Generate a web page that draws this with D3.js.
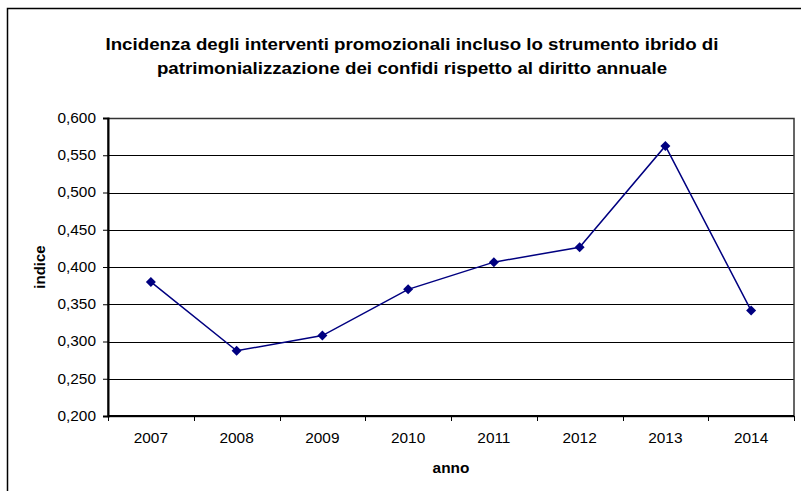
<!DOCTYPE html>
<head>
	<meta charset="utf-8">
	<style>
		body {margin: 0; background: #fff;}
		text {font-family: "Liberation Sans", Arial, sans-serif;}
	</style>
	<script src="https://d3js.org/d3.v7.min.js" charset="utf-8"></script>
</head>
<body>
	<script>
		// values
		var anni = ["2007", "2008", "2009", "2010", "2011", "2012", "2013", "2014"];
		var indice = [0.380, 0.2875, 0.308, 0.370, 0.4065, 0.4265, 0.5625, 0.3415];
		var yTicks = [0.200, 0.250, 0.300, 0.350, 0.400, 0.450, 0.500, 0.550, 0.600];
		var titolo = ["Incidenza degli interventi promozionali incluso lo strumento ibrido di",
			"patrimonializzazione dei confidi rispetto al diritto annuale"];

		var W = 801, H = 491;
		var margin = {top: 118, right: 7, bottom: 75, left: 108},
			width = W - margin.left - margin.right,
			height = H - margin.top - margin.bottom;
		// the picture's text looks a bit wide
		var stretch = 1.1;

		var root = d3.select("body").append("svg")
			.attr("width", W)
			.attr("height", H);

		// outer chart frame (only top and left visible in the picture)
		root.append("rect")
			.attr("x", 7.5).attr("y", 8.5)
			.attr("width", 900).attr("height", 700)
			.attr("fill", "none")
			.attr("stroke", "#000")
			.attr("stroke-width", 1.5);

		root.selectAll(".titolo")
			.data(titolo)
			.enter()
			.append("text")
			.attr("class", "titolo")
			.attr("x", 412)
			.attr("y", function(d, i){return 50 + i * 24;})
			.attr("text-anchor", "middle")
			.attr("font-size", "17px")
			.attr("font-weight", "bold")
			.text(function(d){return d;});

		var svg = root.append("g")
			.attr("transform", "translate(" + margin.left + "," + margin.top + ")");

		var x = d3.scaleBand()
			.domain(anni)
			.range([0, width]);
		var y = d3.scaleLinear()
			.domain([0.2, 0.6])
			.range([height, 0]);

		// gridlines
		svg.selectAll(".grid")
			.data(yTicks)
			.enter()
			.append("line")
			.attr("class", "grid")
			.attr("x1", 0).attr("x2", width)
			.attr("y1", function(d){return Math.round(y(d)) + 0.5;})
			.attr("y2", function(d){return Math.round(y(d)) + 0.5;})
			.attr("stroke", "#000")
			.attr("stroke-width", 1);

		// plot area border
		svg.append("rect")
			.attr("x", 0).attr("y", 0.5)
			.attr("width", width).attr("height", height)
			.attr("fill", "none")
			.attr("stroke", "#333")
			.attr("stroke-width", 1.5);

		var fmt = function(d){return d3.format(".3f")(d).replace(".", ",");};

		var yAxis = svg.append("g")
			.call(d3.axisLeft(y).tickValues(yTicks).tickFormat(fmt).tickSize(5).tickPadding(7));
		yAxis.select(".domain").attr("stroke-width", 2);
		yAxis.selectAll("text").attr("font-size", "14px").attr("font-family", "Liberation Sans, Arial, sans-serif").attr("fill", "#000");

		// x axis: ticks at category boundaries
		var xAxis = svg.append("g")
			.attr("transform", "translate(0," + height + ")");
		xAxis.append("line")
			.attr("x1", 0).attr("x2", width)
			.attr("y1", 0).attr("y2", 0)
			.attr("stroke", "#000").attr("stroke-width", 2);
		xAxis.selectAll(".xtick")
			.data(anni)
			.enter()
			.append("line")
			.attr("class", "xtick")
			.attr("x1", function(d){return Math.round(x(d) + x.bandwidth()) + 0.5;})
			.attr("x2", function(d){return Math.round(x(d) + x.bandwidth()) + 0.5;})
			.attr("y1", 0).attr("y2", 5)
			.attr("stroke", "#000");
		xAxis.append("line")
			.attr("x1", 0.5).attr("x2", 0.5)
			.attr("y1", 0).attr("y2", 5)
			.attr("stroke", "#000");
		xAxis.selectAll(".xlab")
			.data(anni)
			.enter()
			.append("text")
			.attr("class", "xlab")
			.attr("x", function(d){return x(d) + x.bandwidth() / 2;})
			.attr("y", 27)
			.attr("text-anchor", "middle")
			.attr("font-size", "14px")
			.text(function(d){return d;});

		// axis titles
		svg.append("text")
			.attr("x", width / 2)
			.attr("y", height + 57)
			.attr("text-anchor", "middle")
			.attr("font-size", "14px")
			.attr("font-weight", "bold")
			.text("anno");
		svg.append("text")
			.attr("class", "norot")
			.attr("transform", "translate(" + (-63) + "," + (height / 2) + ") rotate(-90)")
			.attr("text-anchor", "middle")
			.attr("font-size", "15px")
			.attr("font-weight", "bold")
			.text("indice");

		// widen the horizontal texts like in the picture
		root.selectAll("text").filter(function(){return !this.classList.contains("norot");})
			.each(function(){
				var len = this.getComputedTextLength();
				d3.select(this)
					.attr("textLength", len * stretch)
					.attr("lengthAdjust", "spacingAndGlyphs");
			});

		// series
		var pts = anni.map(function(a, i){return {anno: a, v: indice[i]};});
		var line = d3.line()
			.x(function(d){return x(d.anno) + x.bandwidth() / 2;})
			.y(function(d){return y(d.v);});
		svg.append("path")
			.datum(pts)
			.attr("d", line)
			.attr("fill", "none")
			.attr("stroke", "#000080")
			.attr("stroke-width", 1.5);
		svg.selectAll(".punto")
			.data(pts)
			.enter()
			.append("path")
			.attr("class", "punto")
			.attr("d", d3.symbol().type(d3.symbolDiamond2).size(64))
			.attr("transform", function(d){return "translate(" + (x(d.anno) + x.bandwidth() / 2) + "," + y(d.v) + ")";})
			.attr("fill", "#000080");
	</script>
</body>

</html>
